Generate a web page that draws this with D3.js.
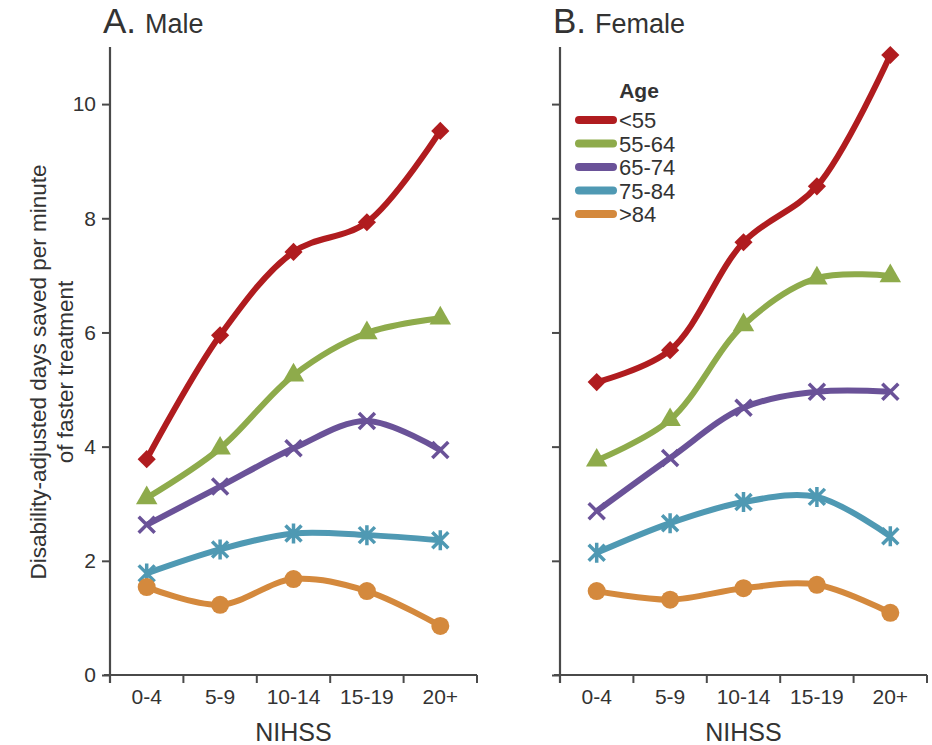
<!DOCTYPE html>
<html>
<head>
<meta charset="utf-8">
<script src="https://cdn.jsdelivr.net/npm/d3@7"></script>
<style>
  body { margin: 0; background: #fff; }
  text { font-family: "Liberation Sans", Arial, sans-serif; fill: #333; }
</style>
</head>
<body>
<div id="chart"></div>
<script>
// Data
const categories = ['0-4', '5-9', '10-14', '15-19', '20+'];
const ageGroups = ['<55', '55-64', '65-74', '75-84', '>84'];
const yTicks = [0, 2, 4, 6, 8, 10];

// Male
const maleU55   = [3.78, 5.95, 7.41, 7.93, 9.53];
const male5564  = [3.10, 3.97, 5.25, 5.99, 6.25];
const male6574  = [2.63, 3.30, 3.97, 4.45, 3.94];
const male7584  = [1.78, 2.20, 2.48, 2.45, 2.36];
const maleO84   = [1.54, 1.23, 1.68, 1.47, 0.86];

// Female
const femaleU55  = [5.13, 5.69, 7.58, 8.56, 10.86];
const female5564 = [3.76, 4.47, 6.13, 6.95, 6.99];
const female6574 = [2.87, 3.80, 4.68, 4.96, 4.96];
const female7584 = [2.14, 2.66, 3.03, 3.12, 2.43];
const femaleO84  = [1.47, 1.32, 1.52, 1.58, 1.09];

const colors = ['#b01c1f', '#8eab4b', '#6a5298', '#4f99b3', '#d4893d'];
const markers = ['diamond', 'triangle', 'cross', 'star', 'circle'];

const panels = [
  { letter: 'A.', name: 'Male', left: 110, series: [maleU55, male5564, male6574, male7584, maleO84], yLabels: true },
  { letter: 'B.', name: 'Female', left: 560, series: [femaleU55, female5564, female6574, female7584, femaleO84], yLabels: false, legend: true }
];

const W = 932, H = 745;
const pw = 367;
const axisColor = '#4a4a4a';

const svg = d3.select('#chart').append('svg')
  .attr('width', W)
  .attr('height', H);

const y = d3.scaleLinear().domain([0, 11]).range([675, 47]);

// y axis title
const yTitle = svg.append('text')
  .attr('transform', 'translate(46,372) rotate(-90)')
  .attr('text-anchor', 'middle')
  .style('font-size', '22.5px');
yTitle.append('tspan').attr('x', 0).attr('dy', 0).text('Disability-adjusted days saved per minute');
yTitle.append('tspan').attr('x', 0).attr('dy', 27).text('of faster treatment');

let drawMarker = (g, type, cx, cy, color) => {
  if (type == 'diamond') {
    g.append('path')
      .attr('d', d3.symbol().type(d3.symbolSquare).size(165)())
      .attr('transform', `translate(${cx},${cy}) rotate(45)`)
      .attr('fill', color);
  } else if (type == 'triangle') {
    g.append('path')
      .attr('d', d3.symbol().type(d3.symbolTriangle).size(200)())
      .attr('transform', `translate(${cx},${cy})`)
      .attr('fill', color);
  } else if (type == 'cross') {
    g.append('path')
      .attr('d', 'M-8,-8L8,8M-8,8L8,-8')
      .attr('transform', `translate(${cx},${cy})`)
      .attr('stroke', color).attr('stroke-width', 3.5).attr('fill', 'none');
  } else if (type == 'star') {
    g.append('path')
      .attr('d', 'M-8,-8L8,8M-8,8L8,-8M0,-10L0,10')
      .attr('transform', `translate(${cx},${cy})`)
      .attr('stroke', color).attr('stroke-width', 3.5).attr('fill', 'none');
  } else {
    g.append('circle')
      .attr('cx', cx).attr('cy', cy).attr('r', 9)
      .attr('fill', color);
  }
}

panels.forEach((p) => {
  const x = d3.scaleBand().domain(categories).range([p.left, p.left + pw]);
  const g = svg.append('g');

  // title
  const t = g.append('text')
    .attr('x', p.left - 7)
    .attr('y', 33);
  t.append('tspan').style('font-size', '35px').text(p.letter);
  t.append('tspan').attr('dx', 9).style('font-size', '27px').text(p.name);

  // y axis
  const yAxis = g.append('g')
    .attr('transform', `translate(${p.left},0)`)
    .call(d3.axisLeft(y).tickValues(yTicks).tickSize(8).tickPadding(6)
      .tickFormat(p.yLabels ? d3.format('d') : ''));
  yAxis.select('.domain').remove();
  yAxis.selectAll('line').attr('stroke', axisColor).attr('stroke-width', 2);
  yAxis.selectAll('text').style('font-size', '21px').attr('fill', '#333');
  g.append('line')
    .attr('x1', p.left).attr('x2', p.left)
    .attr('y1', 47).attr('y2', 683)
    .attr('stroke', axisColor).attr('stroke-width', 2.2);

  // x axis
  g.append('line')
    .attr('x1', p.left - 6).attr('x2', p.left + pw)
    .attr('y1', y(0)).attr('y2', y(0))
    .attr('stroke', axisColor).attr('stroke-width', 2.2);
  const bounds = categories.map(c => x(c)).concat([p.left + pw]);
  g.selectAll('.xtick')
    .data(bounds)
    .enter().append('line')
      .attr('x1', d => d).attr('x2', d => d)
      .attr('y1', y(0)).attr('y2', y(0) + 8)
      .attr('stroke', axisColor).attr('stroke-width', 2);
  g.selectAll('.xlabel')
    .data(categories)
    .enter().append('text')
      .attr('x', d => x(d) + x.bandwidth() / 2)
      .attr('y', 704)
      .attr('text-anchor', 'middle')
      .style('font-size', '21px')
      .text(d => d);
  g.append('text')
    .attr('x', p.left + pw / 2)
    .attr('y', 741)
    .attr('text-anchor', 'middle')
    .style('font-size', '25px')
    .text('NIHSS');

  // lines
  const line = d3.line()
    .x((d, i) => x(categories[i]) + x.bandwidth() / 2)
    .y(d => y(d))
    .curve(d3.curveCatmullRom.alpha(0.5));

  p.series.forEach((s, k) => {
    g.append('path')
      .datum(s)
      .attr('d', line)
      .attr('fill', 'none')
      .attr('stroke', colors[k])
      .attr('stroke-width', 6);
    s.forEach((v, i) => {
      drawMarker(g, markers[k], x(categories[i]) + x.bandwidth() / 2, y(v), colors[k]);
    });
  });

  // legend
  if (p.legend) {
    const lg = g.append('g');
    lg.append('text')
      .attr('x', 639).attr('y', 98)
      .attr('text-anchor', 'middle')
      .style('font-size', '21px')
      .style('font-weight', 'bold')
      .text('Age');
    ageGroups.forEach((a, k) => {
      const ly = 120 + k * 23.5;
      lg.append('line')
        .attr('x1', 579).attr('x2', 613)
        .attr('y1', ly).attr('y2', ly)
        .attr('stroke', colors[k])
        .attr('stroke-width', 8)
        .attr('stroke-linecap', 'round');
      lg.append('text')
        .attr('x', 619).attr('y', ly + 8)
        .style('font-size', '22px')
        .text(a);
    });
  }
});
</script>
</body>
</html>
